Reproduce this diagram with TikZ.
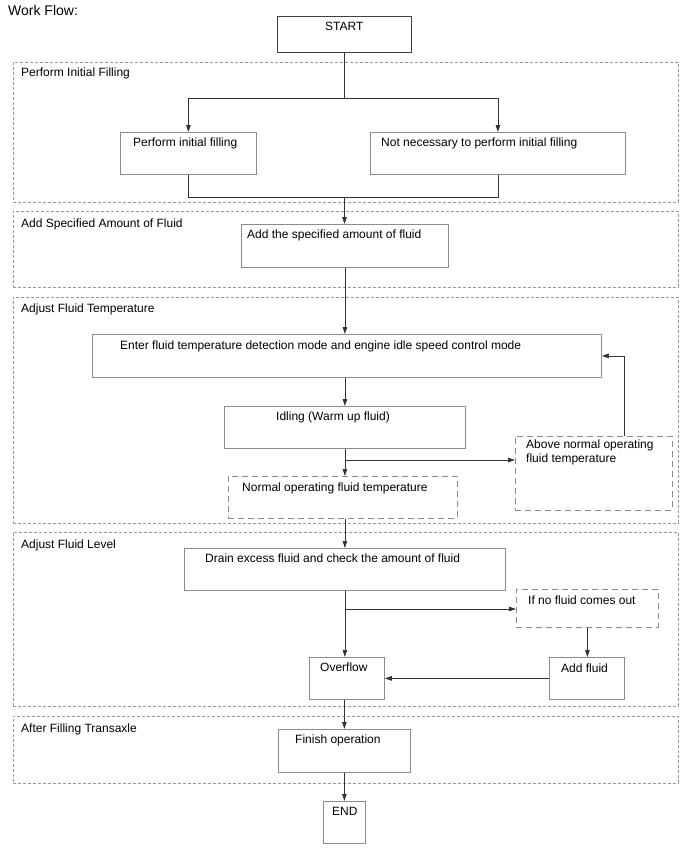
\documentclass[tikz,border=0pt]{standalone}
\usepackage{fontspec}
\setmainfont{Liberation Sans}
\usetikzlibrary{arrows.meta}

\tikzset{
  grp/.style={draw=black!40, line width=0.7pt, dash pattern=on 3pt off 2pt, anchor=north west, inner sep=0pt, minimum width=665pt},
  stepbox/.style={draw=black!45, line width=0.8pt, anchor=north west, inner sep=0pt},
  dashbox/.style={stepbox, dash pattern=on 6pt off 4pt},
  txt/.style={anchor=base west, inner sep=0pt, font=\fontsize{12}{14}\selectfont},
  elbow/.style={to path={-| (\tikztotarget)}},
  elbowv/.style={to path={|- (\tikztotarget)}}
}

\begin{document}
\begin{tikzpicture}[x=1pt,y=-1pt]
        \useasboundingbox (0,0) rectangle (688,852);
        \node[txt, font=\fontsize{14}{16}\selectfont] (title) at (8,15) {Work Flow:};

        \begin{scope}
            \node[grp, minimum height=140pt, label={[txt, xshift=8pt, yshift=-14pt]north west:Perform Initial Filling}] (A) at (13,62) {};
            \node[grp, minimum height=76pt, label={[txt, xshift=8pt, yshift=-16pt]north west:Add Specified Amount of Fluid}] (B) at (13,211) {};
            \node[grp, minimum height=226pt, label={[txt, xshift=8pt, yshift=-15pt]north west:Adjust Fluid Temperature}] (C) at (13,297) {};
            \node[grp, minimum height=174pt, label={[txt, xshift=8pt, yshift=-16pt]north west:Adjust Fluid Level}] (D) at (13,532) {};
            \node[grp, minimum height=67pt, label={[txt, xshift=8pt, yshift=-16pt]north west:After Filling Transaxle}] (E) at (13,716) {};
        \end{scope}

        \begin{scope}
            \node[stepbox, draw=black!75, line width=1pt, minimum width=134pt, minimum height=36pt, label={[txt, xshift=48pt, yshift=-14pt]north west:START}] (1) at (277,16) {};

            \node[stepbox, minimum width=136pt, minimum height=42pt, label={[txt, xshift=13pt, yshift=-14pt]north west:Perform initial filling}] (2) at (120,132) {};
            \node[stepbox, minimum width=255pt, minimum height=42pt, label={[txt, xshift=11pt, yshift=-14pt]north west:Not necessary to perform initial filling}] (3) at (370,132) {};

            \node[stepbox, minimum width=207pt, minimum height=43pt, label={[txt, xshift=6pt, yshift=-14pt]north west:Add the specified amount of fluid}] (4) at (241,224) {};

            \node[stepbox, minimum width=509pt, minimum height=43pt, label={[txt, xshift=28pt, yshift=-15pt]north west:Enter fluid temperature detection mode and engine idle speed control mode}] (5) at (92,334) {};
            \node[stepbox, minimum width=241pt, minimum height=42pt, label={[txt, xshift=52pt, yshift=-14pt]north west:Idling (Warm up fluid)}] (6) at (224,406) {};
            \node[dashbox, minimum width=229pt, minimum height=42pt, label={[txt, xshift=14pt, yshift=-15pt]north west:Normal operating fluid temperature}] (7) at (228,476) {};
            \node[dashbox, minimum width=157pt, minimum height=74pt, label={[txt, anchor=north west, align=left, xshift=11pt, yshift=-4pt]north west:Above normal operating\\fluid temperature}] (8) at (515,436) {};

            \node[stepbox, minimum width=321pt, minimum height=42pt, label={[txt, xshift=21pt, yshift=-14pt]north west:Drain excess fluid and check the amount of fluid}] (9) at (184,548) {};
            \node[stepbox, minimum width=75pt, minimum height=42pt, label={[txt, xshift=11pt, yshift=-14pt]north west:Overflow}] (10) at (309,657) {};
            \node[dashbox, minimum width=142pt, minimum height=38pt, label={[txt, xshift=12pt, yshift=-15pt]north west:If no fluid comes out}] (11) at (516,589) {};
            \node[stepbox, minimum width=75pt, minimum height=42pt, label={[txt, xshift=12pt, yshift=-15pt]north west:Add fluid}] (12) at (549,657) {};

            \node[stepbox, minimum width=132pt, minimum height=43pt, label={[txt, xshift=17pt, yshift=-14pt]north west:Finish operation}] (13) at (278,729) {};
            \node[stepbox, minimum width=42pt, minimum height=42pt, label={[txt, xshift=9pt, yshift=-14pt]north west:END}] (14) at (323,801) {};
        \end{scope}

        \coordinate (s1) at (1.south |- 0,98);
        \coordinate (m1) at (1.south |- 0,197);
        \coordinate (b1) at (1.south |- 0,460);
        \coordinate (b2) at (1.south |- 0,609);

        \begin{scope}[every edge/.style={draw, black!80, line width=0.8pt}, >={Triangle[length=7pt,width=4.5pt]}]
            \path [-] (1) edge (s1);
            \path [->] (s1) edge[elbow] (2);
            \path [->] (s1) edge[elbow] (3);
            \path [-] (2) edge[elbowv] (m1);
            \path [-] (m1) edge[elbow] (3);
            \path [->] (m1) edge (m1 |- 4.north);

            \path [->] (4) edge (4.south |- 5.north);
            \path [->] (6.north |- 5.south) edge (6);
            \path [->] (6) edge (6.south |- 7.north);
            \path [->] (b1) edge (b1 -| 8.west);
            \path [->] ([xshift=30pt]8.north) edge[elbowv] (5);

            \path [->] (9.north |- 7.south) edge (9);
            \path [->] (9) edge (9.south |- 10.north);
            \path [->] (b2) edge (b2 -| 11.west);
            \path [->] (11) edge (11.south |- 12.north);
            \path [->] (12) edge (10);

            \path [->] (13.north |- 10.south) edge (13);
            \path [->] (13) edge (14);
        \end{scope}
    \end{tikzpicture}
\end{document}
